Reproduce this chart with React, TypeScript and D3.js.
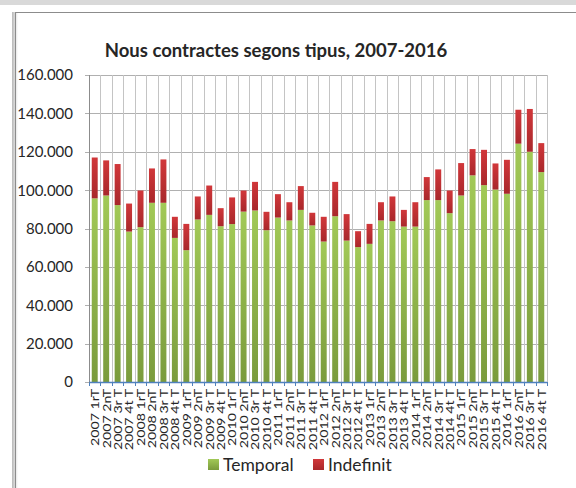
import React from 'react';
import * as d3 from 'd3';

const quarters = [
  '2007 1rT', '2007 2nT', '2007 3r T', '2007 4t T',
  '2008 1rT', '2008 2nT', '2008 3r T', '2008 4t T',
  '2009 1rT', '2009 2nT', '2009 3r T', '2009 4t T',
  '2010 1rT', '2010 2nT', '2010 3r T', '2010 4t T',
  '2011 1rT', '2011 2nT', '2011 3r T', '2011 4t T',
  '2012 1rT', '2012 2nT', '2012 3r T', '2012 4t T',
  '2013 1rT', '2013 2nT', '2013 3r T', '2013 4t T',
  '2014 1rT', '2014 2nT', '2014 3r T', '2014 4t T',
  '2015 1rT', '2015 2nT', '2015 3r T', '2015 4t T',
  '2016 1rT', '2016 2nT', '2016 3r T', '2016 4t T',
];

const temporal = [
  95700, 97200, 92200, 78400, 80700, 93400, 93400, 75100,
  68700, 84700, 87100, 81200, 82300, 88800, 89400, 79100,
  85700, 84200, 89700, 81600, 73200, 86400, 73700, 70300,
  72000, 84200, 83800, 81000, 81000, 94800, 94800, 88000,
  97200, 107700, 102600, 100300, 98100, 124200, 120000, 109400,
];

const indefinit = [
  21300, 18300, 21400, 14600, 19100, 17900, 22600, 11000,
  13700, 12000, 15300, 9400, 13900, 11000, 14900, 9600,
  12200, 9500, 12400, 6600, 12900, 17900, 13800, 8300,
  10400, 9500, 12900, 8700, 12700, 12000, 16000, 11800,
  16900, 13700, 18400, 13600, 17700, 17700, 22300, 15100,
];

const yTicks = [0, 20000, 40000, 60000, 80000, 100000, 120000, 140000, 160000];

const W = 576;
const H = 488;
const plot = { left: 89, right: 547, top: 75, bottom: 382 };
const font = 'Lato, "Open Sans", sans-serif';

const fmt = (v: number) => (v === 0 ? '0' : d3.format(',')(v).replace(/,/g, '.'));

export default function App() {
  const x = d3.scaleBand<string>()
    .domain(quarters)
    .range([plot.left, plot.right])
    .paddingInner(0.48)
    .paddingOuter(0.24);
  const y = d3.scaleLinear().domain([0, 160000]).range([plot.bottom, plot.top]);

  const stacked = d3.stack<number>()
    .keys(['temporal', 'indefinit'])
    .value((i, key) => (key === 'temporal' ? temporal[i] : indefinit[i]))(
      quarters.map((_, i) => i)
    );

  const step = (plot.right - plot.left) / quarters.length;
  const fills = ['url(#gGreen)', 'url(#gRed)'];

  return (
    <svg width={W} height={H} style={{ position: 'absolute', left: 0, top: 0 }} fontFamily={font}>
      <defs>
        <linearGradient id="gGreen" x1="0" y1="0" x2="0" y2="1">
          <stop offset="0" stopColor="#a2c957" />
          <stop offset="1" stopColor="#7a9b3c" />
        </linearGradient>
        <linearGradient id="gRed" x1="0" y1="0" x2="0" y2="1">
          <stop offset="0" stopColor="#d1373a" />
          <stop offset="1" stopColor="#a8282b" />
        </linearGradient>
        <linearGradient id="gShadow" x1="0" y1="0" x2="1" y2="0">
          <stop offset="0" stopColor="#b8b8b8" />
          <stop offset="1" stopColor="#ffffff" />
        </linearGradient>
      </defs>
      <rect width={W} height={H} fill="#ffffff" />
      <rect width={W} height={5} fill="#d9d9d9" />
      <rect x={12} y={12} width={6} height={H - 12} fill="url(#gShadow)" />
      <line x1={15} x2={W} y1={12.5} y2={12.5} stroke="#8c8c8c" />
      <line x1={15.5} x2={15.5} y1={12} y2={H} stroke="#8c8c8c" />

      <text x={276} y={57} textAnchor="middle" fontSize={18.5} fontWeight="bold" fill="#262626">
        Nous contractes segons tipus, 2007-2016
      </text>

      {yTicks.map(t => (
        <g key={t}>
          <line x1={plot.left - 4} x2={plot.right} y1={Math.round(y(t)) + 0.5} y2={Math.round(y(t)) + 0.5} stroke="#b0b0b0" />
          <text x={73} y={y(t)} dy="0.36em" textAnchor="end" fontSize={15} fill="#262626">{fmt(t)}</text>
        </g>
      ))}
      {d3.range(quarters.length + 1).map(i => (
        <line key={i} x1={Math.round(plot.left + i * step) + 0.5} x2={Math.round(plot.left + i * step) + 0.5}
          y1={plot.top} y2={plot.bottom} stroke="#c4c4c4" />
      ))}
      <line x1={plot.left + 0.5} x2={plot.left + 0.5} y1={plot.top} y2={plot.bottom} stroke="#8c8c8c" />

      {stacked.map((series, si) => (
        <g key={series.key} fill={fills[si]}>
          {series.map((d, i) => (
            <rect key={i} x={x(quarters[i])} width={x.bandwidth()} y={y(d[1])} height={y(d[0]) - y(d[1])} />
          ))}
        </g>
      ))}

      <line x1={plot.left} x2={plot.right} y1={plot.bottom + 0.5} y2={plot.bottom + 0.5} stroke="#4f81bd" strokeWidth={1.5} />
      {d3.range(quarters.length + 1).map(i => (
        <line key={i} x1={Math.round(plot.left + i * step) + 0.5} x2={Math.round(plot.left + i * step) + 0.5}
          y1={plot.bottom} y2={plot.bottom + 4} stroke="#4f81bd" />
      ))}
      {quarters.map(q => (
        <text key={q} transform={`translate(${x(q)! + x.bandwidth() / 2},${plot.bottom + 7}) rotate(-90) scale(1.18,1)`}
          dy="0.36em" textAnchor="end" fontSize={12} fill="#262626">{q}</text>
      ))}

      <g fontSize={17.5} fill="#262626">
        <rect x={208} y={459} width={11} height={11} fill="url(#gGreen)" />
        <text x={223} y={465} dy="0.36em">Temporal</text>
        <rect x={313} y={459} width={11} height={11} fill="url(#gRed)" />
        <text x={328} y={465} dy="0.36em">Indefinit</text>
      </g>
    </svg>
  );
}
